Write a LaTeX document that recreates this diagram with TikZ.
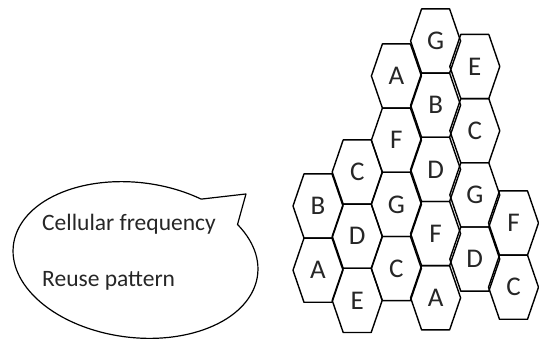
\documentclass[tikz,border=0pt]{standalone}
\usepackage{fontspec}
\setmainfont{Carlito}
\tikzset{
  hexline/.style={draw=black, line width=1.4pt, line join=round},
  hexlabel/.style={font=\fontsize{27}{27}\selectfont, inner sep=0pt, text=black!85},
  bubbletext/.style={font=\fontsize{23.5}{24}\selectfont, inner sep=0pt, anchor=base west, text=black!85},
  bubbleline/.style={draw=black, line width=1.2pt, line join=round}
}
\newcommand\HexCell[4]{%
  \draw[hexline] ({#2-25},{#3}) -- ({#2-14},{#3+32.1}) -- ({#2+14},{#3+32.1}) -- ({#2+25},{#3}) -- ({#2+14},{#3-32.1}) -- ({#2-14},{#3-32.1}) -- cycle;
  \node[hexlabel] (#1) at (#2,#3) {#4};}
\begin{document}
\begin{tikzpicture}[x=1pt,y=1pt]
\useasboundingbox (0,0) rectangle (539,-339);
% speech bubble
\begin{scope}[shift={(135.5,-260)}, rotate=-7]
  \draw[bubbleline] (38:123 and 77.5) arc[start angle=38, end angle=-298, x radius=123, y radius=77.5] -- (101.6,79) -- cycle;
\end{scope}
\node[bubbletext] (t1) at (42,-231) {Cellular frequency};
\node[bubbletext] (t2) at (42,-287) {Reuse pattern};
% column 1
\HexCell{c11}{318}{-206}{B}
\HexCell{c12}{318}{-270.2}{A}
% column 2
\HexCell{c21}{357.2}{-172}{C}
\HexCell{c22}{357.2}{-236.2}{D}
\HexCell{c23}{357.2}{-300.4}{E}
% column 3
\HexCell{c31}{396.4}{-76}{A}
\HexCell{c32}{396.4}{-140.2}{F}
\HexCell{c33}{396.4}{-204.4}{G}
\HexCell{c34}{396.4}{-268.6}{C}
% column 4
\HexCell{c41}{435.6}{-41}{G}
\HexCell{c42}{435.6}{-105.2}{B}
\HexCell{c43}{435.6}{-169.4}{D}
\HexCell{c44}{435.6}{-233.6}{F}
\HexCell{c45}{435.6}{-297.8}{A}
% column 5
\HexCell{c51}{474.8}{-66.5}{E}
\HexCell{c52}{474.8}{-130.7}{C}
\HexCell{c53}{474.8}{-194.9}{G}
\HexCell{c54}{474.8}{-259.1}{D}
% column 6
\HexCell{c61}{513.5}{-223}{F}
\HexCell{c62}{513.5}{-287.2}{C}
\end{tikzpicture}
\end{document}
